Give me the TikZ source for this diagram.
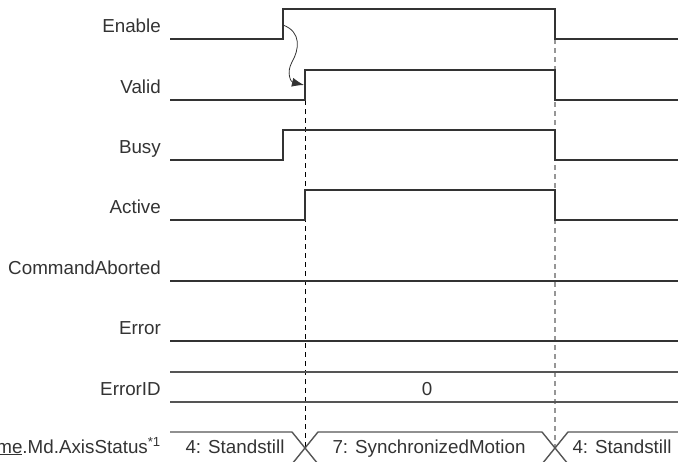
\documentclass[tikz,border=0pt]{standalone}
\usepackage{fontspec}
\setmainfont{Liberation Sans}
\usetikzlibrary{arrows.meta}
\definecolor{sigline}{RGB}{51,51,51}
\definecolor{busline}{RGB}{85,85,85}
\definecolor{edgegray}{RGB}{150,150,150}

\begin{document}
\begin{tikzpicture}[x=1pt, y=-1pt,
  every node/.style={font=\fontsize{18.8}{21}\selectfont, text=sigline, inner sep=0pt},
  lbl/.style={anchor=base east},
  val/.style={anchor=base},
  sig/.style={draw=sigline, line width=1.5pt},
  bus/.style={draw=busline, line width=1.4pt},
  edgeline/.style={dash pattern=on 5pt off 4pt},
  arrow/.style={-{Latex[length=12pt, width=9pt]}, line width=0.8pt, sigline},
]

\useasboundingbox (0,0) rectangle (678,461);
\clip (0,0) rectangle (678,461);

%% Edge points
\coordinate (enrise) at (283,25);
\coordinate (varise) at (304,85);

%% Signal labels
\node[lbl] (enable) at (161,32)  {Enable};
\node[lbl] (valid)  at (161,93)  {Valid};
\node[lbl] (busy)   at (161,153) {Busy};
\node[lbl] (active) at (161,213) {Active};
\node[lbl] (cmdab)  at (161,274) {CommandAborted};
\node[lbl] (error)  at (161,334) {Error};
\node[lbl] (errid)  at (161,395) {ErrorID};
\node[lbl] (axst)   at (161,453) {\underline{AxisName}.Md.AxisStatus\textsuperscript{*1}};

%% Timing markers
\draw[edgeline, black, line width=0.9pt] (305,100) -- (305,448);
\draw[edgeline, edgegray, line width=1.3pt] (555,39) -- (555,448);

%% Bit signals
\draw[sig] (170,39) -- (283,39) -- (283,9) -- (555,9) -- (555,39) -- (678,39);
\draw[sig] (170,100) -- (305,100) -- (305,70) -- (555,70) -- (555,100) -- (678,100);
\draw[sig] (170,160) -- (283,160) -- (283,130) -- (555,130) -- (555,160) -- (678,160);
\draw[sig] (170,220) -- (305,220) -- (305,190) -- (555,190) -- (555,220) -- (678,220);
\draw[sig] (170,281) -- (678,281);
\draw[sig] (170,341) -- (678,341);

%% Word signals
\draw[bus] (170,372) -- (678,372) (170,402) -- (678,402);
\node[val] (errval) at (427,395) {0};

\draw[bus] (170,432) -- (292,432) -- (318,464) -- (542,464) -- (568,432) -- (678,432);
\draw[bus] (170,464) -- (292,464) -- (318,432) -- (542,432) -- (568,464) -- (678,464);
\node[val] (stand1) at (235,453) {4: Standstill};
\node[val] (sync)   at (429,453) {7: SynchronizedMotion};
\node[val] (stand2) at (622,453) {4: Standstill};

%% Enable -> Valid
\draw[arrow] (enrise) .. controls (302,32) and (299,50) .. (292,62)
  .. controls (286,73) and (291,82) .. (varise);

\end{tikzpicture}
\end{document}
